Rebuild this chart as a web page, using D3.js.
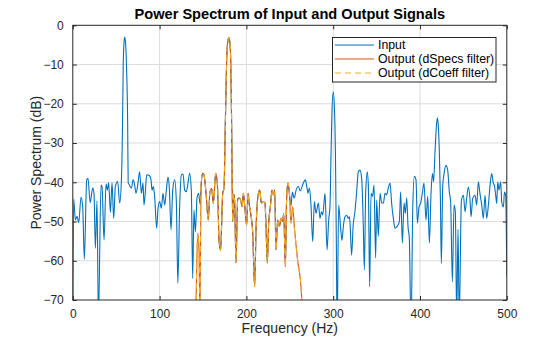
<!DOCTYPE html>
<html>
<head>
<meta charset="utf-8">
<script src="https://cdn.jsdelivr.net/npm/d3@7"></script>
<style>
  html, body { margin: 0; padding: 0; background: #fff; }
  svg { display: block; font-family: "Liberation Sans", Arial, Helvetica, sans-serif; }
</style>
</head>
<body>
<svg id="chart" width="560" height="337"></svg>
<script>
// ---------- data ----------
const xTicks = [0, 100, 200, 300, 400, 500];
const yTicks = [0, -10, -20, -30, -40, -50, -60, -70];

const inputFreq = [
  0, 1, 3, 5, 6.8, 9.5, 11.4, 13.3, 16, 17.5, 20, 22.9, 24.4, 26, 27.9, 29.5, 32.5, 33.7, 36, 38.3,
  39.8, 41.3, 43.3, 45.2, 47.1, 49, 51.7, 54, 55.9, 57.3, 58.1, 59, 59.8, 60.8, 61.8, 63.2, 63.8, 65.2, 67.5, 69.4,
  71.3, 72.8, 75.1, 77, 79, 80.9, 82, 83.6, 85.1, 88.2, 90.1, 91.3, 92.8, 94.3, 96.6, 98.2, 100.1, 102, 103.9, 105.9,
  107.8, 109.7, 111.2, 113.2, 115.1, 117.4, 119.3, 121, 123.1, 125.1, 127, 128.9, 130.8, 132.7, 134.6, 136.6, 138.1, 139.6, 141.2, 143.1,
  145, 146.6, 148.5, 149.6, 151.1, 153.5, 156.1, 158, 160, 161.9, 164.6, 166.5, 167.5, 168.4, 170.3, 171.5, 172.7, 174.2, 175.7, 177.3,
  178.6, 179.8, 181, 181.9, 183, 184.2, 185.5, 186.5, 188, 190, 191.9, 193.8, 195, 196.5, 198, 200.3, 201.9, 203.4, 204.9, 207.2,
  209.5, 211.1, 213.8, 215.3, 217.2, 219.5, 221.4, 222.6, 224.1, 225.7, 227.6, 229.5, 231, 232.6, 234.1, 236, 238, 239.9, 241.8, 243,
  244.9, 246.4, 247.9, 249.5, 251.3, 253, 255, 257.5, 259.8, 262, 265.6, 267.9, 269.5, 271, 272.5, 274.4, 276.4, 278.3, 280.2, 282.9,
  284.8, 286.5, 288, 290.6, 292.9, 294.8, 296.3, 297.4, 298.6, 300, 301.4, 302.6, 303.6, 304.5, 306.3, 308.6, 310.1, 311.8, 313.6, 315.5,
  317.4, 318.5, 319.3, 321.2, 323, 325, 327, 328.9, 330.8, 332.8, 334.7, 335.9, 337.4, 339.3, 340.5, 342, 343.6, 345.3, 347, 348.9,
  350.1, 352, 354, 355.9, 357.8, 359.7, 361.5, 363.5, 365.5, 367.3, 369.3, 371.2, 373.5, 376.2, 377.7, 379.7, 381.6, 383.1, 384.7, 386.2,
  387.7, 389.7, 391.6, 393.5, 395.4, 397, 398.9, 400.8, 402.7, 404.6, 406.9, 408.9, 410.8, 412.7, 414.4, 415.6, 417.3, 418.8, 420, 421.2,
  422.3, 423.5, 424.6, 426.2, 427.7, 430, 431.9, 433.8, 435.3, 437.3, 439.2, 440.7, 442.3, 443.8, 445.2, 447.7, 450, 451.9, 453.8, 455.7,
  457.5, 458.8, 460.7, 463.4, 465.3, 467.2, 469.1, 471.1, 473, 474.9, 476.8, 478.8, 480.7, 482.6, 484.5, 485.7, 487.2, 488.4, 489.5, 491,
  493, 494.1, 496.1, 497.3, 498.7, 500
];
const inputDb = [
  -80, -44.3, -49.6, -48.7, -50.3, -43.8, -46.2, -59.6, -39.4, -39, -45.2, -41.5, -42.8, -56.8, -44.7, -75, -40.7, -41.2, -54.7, -40.4,
  -42, -40.1, -47.7, -40.1, -49.2, -41.1, -39.8, -45.3, -40, -25, -10, -4.5, -3, -4.5, -10, -25, -40.1, -40.7, -41.5, -39.4,
  -40.7, -42.8, -40.2, -37.3, -42.8, -40.2, -45.8, -42.4, -38.1, -38.3, -39.4, -42, -41.1, -43.6, -51.7, -46.6, -44.9, -46.6, -42.8, -45.8,
  -42, -38.7, -41.5, -52.1, -42, -39.4, -45, -65.7, -46.2, -38.1, -37.9, -42, -42.4, -40.2, -37.7, -42.4, -64.5, -47.1, -52.6, -44,
  -42.8, -45.5, -39, -37.7, -38.1, -42.8, -49.6, -42.4, -41.6, -45.4, -37.7, -40.3, -47, -54.7, -57.3, -50.5, -42.8, -41.5, -25.5, -8.5,
  -4, -3.1, -4.5, -8.5, -25.5, -50, -43, -45, -60.5, -44.3, -44, -44.9, -46.2, -42.8, -45.8, -50.9, -42.8, -45.8, -47.9, -52.5,
  -66.6, -52, -42.8, -42, -45.3, -44.9, -45.3, -51.3, -60.6, -50.4, -46.2, -42, -43.2, -42, -57.2, -49.6, -51.3, -49.2, -50, -47.9,
  -61.5, -43.6, -40.2, -42.8, -46, -42.5, -44, -41.8, -41, -42.2, -40.2, -39.4, -41, -42.8, -41.5, -45.8, -55.1, -44.9, -47.9, -45.3,
  -49.2, -47.5, -48.3, -42.8, -57.2, -49.6, -46.2, -34, -22, -17, -21, -33, -55, -78, -45.8, -51.8, -54.8, -51, -48.8, -48.4,
  -49.2, -48.8, -50, -58.6, -51, -47.5, -42.5, -37.4, -36.9, -39, -51.3, -62.3, -42.8, -37.3, -41, -66.6, -42.8, -43.6, -40.7, -59.3,
  -44.5, -53.8, -42.8, -45.3, -45.3, -42.8, -43.2, -41.5, -40.2, -45.3, -49.2, -51.7, -51.3, -50, -42.4, -55.5, -45.3, -47.9, -44, -51.3,
  -54.3, -78, -47, -38.5, -39.4, -50.4, -46.2, -45.3, -42.8, -40.2, -49.6, -43.6, -55.5, -42.8, -37.8, -39.9, -32.3, -26, -23.6, -26,
  -32.3, -44.1, -60.7, -40.8, -37.8, -35.7, -36.9, -42.5, -45, -65.4, -45.8, -47.5, -75, -52, -75, -44.6, -43.3, -47.5, -44.1, -41.2,
  -44.1, -48.8, -44.1, -43.3, -45.8, -39.9, -42.9, -45.8, -49.2, -43.3, -49.2, -45.8, -40.8, -37.8, -40.3, -40.8, -43.3, -45.4, -39.9, -42,
  -39.9, -45, -46.3, -42.5, -43.3, -64
];

const outputFreq = [
  138, 141.8, 143.9, 145.4, 146.5, 147.7, 149.6, 151.1, 153.5, 156.1, 158, 160, 161.9, 164.6, 166.5, 167.5, 168.4, 170.3, 171.5, 172.7,
  174.2, 175.7, 177.3, 178.6, 179.8, 181, 181.9, 183, 184.2, 185.5, 186.5, 188, 190, 191.9, 193.8, 195, 196.5, 198, 200.3, 201.9,
  203.4, 204.9, 207.2, 209.5, 211.1, 213.8, 215.3, 217.2, 219.5, 221.4, 222.6, 224.1, 225.7, 227.6, 229.5, 231, 232.6, 234.1, 236, 238,
  239.9, 241.8, 243, 244.9, 246.4, 247.9, 249.5, 251.4, 253.3, 255.2, 259, 262.9, 265, 268
];
const outputDb = [
  -85, -72, -53, -57.3, -75, -41.1, -37.7, -38.1, -42.8, -49.6, -42.4, -41.6, -45.4, -37.7, -40.3, -47, -54.7, -57.3, -50.5, -42.8,
  -41.5, -25.5, -8.5, -4, -3.1, -4.5, -8.5, -25.5, -50, -43, -45, -60.5, -44.3, -44, -44.9, -46.2, -42.8, -45.8, -50.9, -42.8,
  -45.8, -47.9, -52.5, -66.6, -52, -42.8, -42, -45.3, -44.9, -45.3, -51.3, -60.6, -50.4, -46.2, -42, -43.2, -42, -57.2, -49.6, -51.3,
  -49.2, -50, -47.9, -61.5, -43.6, -40.2, -42.8, -50.4, -46.2, -51.3, -59.8, -66.6, -75, -85
];
// the dCoeff design gives the same response as the dSpecs design
const outputCoeffFreq = outputFreq;
const outputCoeffDb = outputDb;

const seriesNames = ["Input", "Output (dSpecs filter)", "Output (dCoeff filter)"];
const seriesColors = ["#0072BD", "#D95319", "#EDB120"];

// ---------- layout ----------
const W = 560, H = 337;
const L = 72.8, R = 506.8, T = 25.3, B = 300;
const ink = "#262626";

const svg = d3.select("#chart");
const x = d3.scaleLinear().domain([0, 500]).range([L, R]);
const y = d3.scaleLinear().domain([-70, 0]).range([B, T]);

// grid
const grid = svg.append("g");
grid.selectAll("line.gx").data(xTicks.slice(1, -1)).join("line")
  .attr("x1", d => x(d)).attr("x2", d => x(d)).attr("y1", T).attr("y2", B)
  .attr("stroke", "#dcdcdc").attr("stroke-width", 1);
grid.selectAll("line.gy").data(yTicks.slice(1, -1)).join("line")
  .attr("x1", L).attr("x2", R).attr("y1", d => y(d)).attr("y2", d => y(d))
  .attr("stroke", "#dcdcdc").attr("stroke-width", 1);

// clip
svg.append("defs").append("clipPath").attr("id", "plotclip")
  .append("rect").attr("x", L).attr("y", T).attr("width", R - L).attr("height", B - T);

const line = d3.line().x(d => x(d[0])).y(d => y(d[1])).curve(d3.curveMonotoneX);
const plot = svg.append("g").attr("clip-path", "url(#plotclip)");
const zip = (a, b) => a.map((v, i) => [v, b[i]]);

plot.append("path").datum(zip(inputFreq, inputDb)).attr("d", line)
  .attr("fill", "none").attr("stroke", seriesColors[0]).attr("stroke-width", 1.1).attr("stroke-linejoin", "round");
plot.append("path").datum(zip(outputFreq, outputDb)).attr("d", line)
  .attr("fill", "none").attr("stroke", seriesColors[1]).attr("stroke-width", 1.1).attr("stroke-linejoin", "round");
plot.append("path").datum(zip(outputCoeffFreq, outputCoeffDb)).attr("d", line)
  .attr("fill", "none").attr("stroke", seriesColors[2]).attr("stroke-width", 1.1)
  .attr("stroke-dasharray", "6,4").attr("stroke-linejoin", "round");

// axes (ticks inward, box on)
const fontTick = 12;
const xAxisB = d3.axisBottom(x).tickValues(xTicks).tickSize(-4).tickPadding(9).tickFormat(d3.format("d"));
const xAxisT = d3.axisTop(x).tickValues(xTicks).tickSize(-4).tickFormat("");
const yAxisL = d3.axisLeft(y).tickValues(yTicks).tickSize(-4).tickPadding(9).tickFormat(d3.format("d"));
const yAxisR = d3.axisRight(y).tickValues(yTicks).tickSize(-4).tickFormat("");

function style(g) {
  g.select(".domain").attr("stroke", ink).attr("stroke-width", 1);
  g.selectAll(".tick line").attr("stroke", ink);
  g.selectAll(".tick text").attr("fill", ink).attr("font-size", fontTick)
    .attr("font-family", "'Liberation Sans', Arial, sans-serif");
}
svg.append("g").attr("transform", `translate(0,${B})`).call(xAxisB).call(style);
svg.append("g").attr("transform", `translate(0,${T})`).call(xAxisT).call(style);
svg.append("g").attr("transform", `translate(${L},0)`).call(yAxisL).call(style);
svg.append("g").attr("transform", `translate(${R},0)`).call(yAxisR).call(style);
svg.selectAll(".domain").attr("d", null);
svg.append("rect").attr("x", L).attr("y", T).attr("width", R - L).attr("height", B - T)
  .attr("fill", "none").attr("stroke", ink).attr("stroke-width", 1);

// labels
svg.append("text").attr("x", (L + R) / 2).attr("y", 18.5).attr("text-anchor", "middle")
  .attr("font-size", 14.6).attr("font-weight", "bold").attr("fill", "#000")
  .text("Power Spectrum of Input and Output Signals");
svg.append("text").attr("x", (L + R) / 2).attr("y", 333).attr("text-anchor", "middle")
  .attr("font-size", 14).attr("fill", ink).text("Frequency (Hz)");
svg.append("text").attr("transform", `translate(41,${(T + B) / 2}) rotate(-90)`).attr("text-anchor", "middle")
  .attr("font-size", 14).attr("fill", ink).text("Power Spectrum (dB)");

// legend
const lg = svg.append("g");
lg.append("rect").attr("x", 332.5).attr("y", 37.5).attr("width", 163.5).attr("height", 44.5)
  .attr("fill", "#fff").attr("stroke", ink).attr("stroke-width", 1);
const rows = [45, 59, 73];
seriesNames.forEach((name, i) => {
  const ln = lg.append("line").attr("x1", 335).attr("x2", 374).attr("y1", rows[i]).attr("y2", rows[i])
    .attr("stroke", seriesColors[i]).attr("stroke-width", 1.1);
  if (i === 2) ln.attr("stroke-dasharray", "6,4");
  lg.append("text").attr("x", 378).attr("y", rows[i]).attr("dy", "0.35em")
    .attr("font-size", 12.3).attr("fill", "#000").text(name);
});
</script>
</body>
</html>
